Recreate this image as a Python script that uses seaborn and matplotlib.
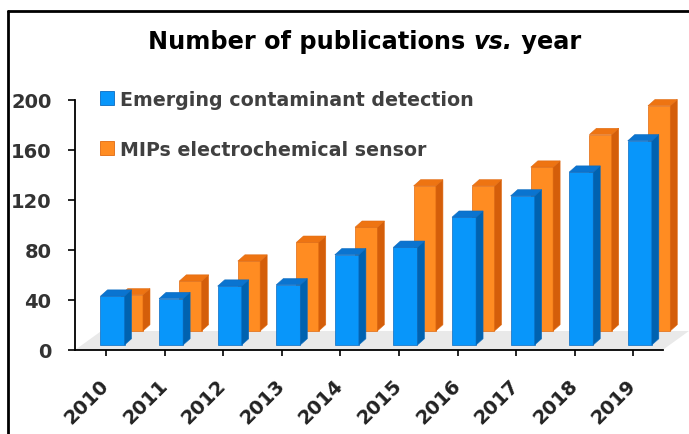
import numpy as np
import pandas as pd
import matplotlib
matplotlib.use("Agg")
import matplotlib.pyplot as plt
import seaborn as sns
from matplotlib.patches import Polygon, Patch
from matplotlib.lines import Line2D

# ---- data ----
years = ["2010", "2011", "2012", "2013", "2014", "2015", "2016", "2017", "2018", "2019"]
emerging = [43, 41, 51, 52, 76, 82, 106, 123, 142, 167]
mips = [44, 55, 71, 86, 98, 131, 131, 146, 172, 195]
series_labels = ["Emerging contaminant detection", "MIPs electrochemical sensor"]
yticks = [0, 40, 80, 120, 160, 200]
title_parts = ["Number of publications ", "vs.", " year"]

# ---- style ----
blue_front, blue_side, blue_top, blue_edge = "#0896FA", "#0062B0", "#0A74D0", "#0B6BC0"
orng_front, orng_side, orng_top, orng_edge = "#FF8C22", "#D45E0A", "#EE7412", "#E06A10"
font_fam = ["DejaVu Sans"]

sns.set_theme(style="white")
plt.rcParams["font.family"] = font_fam

W, H = 689, 435
fig = plt.figure(figsize=(W / 100, H / 100), dpi=100)
ax = fig.add_axes([75 / W, 84 / H, 614 / W, 250.5 / H])

dx, dy = 0.12, 5.0           # 3-D depth of the bars (data units)
front_base, back_base = 4.0, 15.2


def draw_series(values, color, width, shift, base, side_c, top_c, edge_c, z):
    before = set(ax.patches)
    df = pd.DataFrame({"year": years, "value": values})
    sns.barplot(data=df, x="year", y="value", color=color, width=width,
                saturation=1, ax=ax, zorder=z, edgecolor=edge_c, linewidth=0.5)
    new = [p for p in ax.patches if p not in before]
    for p, v in zip(new, values):
        p.set_x(p.get_x() + shift)
        p.set_y(base)
        p.set_height(v - base)
        p.set_clip_on(False)
        x0, w = p.get_x(), p.get_width()
        side = Polygon([(x0 + w, base), (x0 + w + dx, base + dy),
                        (x0 + w + dx, v + dy), (x0 + w, v)],
                       closed=True, facecolor=side_c, edgecolor=edge_c,
                       linewidth=0.4, zorder=z, clip_on=False)
        top = Polygon([(x0, v), (x0 + dx, v + dy), (x0 + w + dx, v + dy), (x0 + w, v)],
                      closed=True, facecolor=top_c, edgecolor=edge_c,
                      linewidth=0.4, zorder=z, clip_on=False)
        ax.add_patch(side)
        ax.add_patch(top)


# floor
ax.add_patch(Polygon([(-0.53, 0), (9.5, 0), (9.95, back_base), (-0.08, back_base)],
                     closed=True, facecolor="#e9e9e9", edgecolor="none", zorder=1,
                     clip_on=False))

draw_series(mips, orng_front, 0.38, 0.44, back_base, orng_side, orng_top, orng_edge, 2)
draw_series(emerging, blue_front, 0.41, 0.11, front_base, blue_side, blue_top, blue_edge, 3)

ax.set_xlim(-0.53, 9.95)
ax.set_ylim(0, 200)
ax.set_xlabel("")
ax.set_ylabel("")
ax.set_yticks(yticks)
ax.set_yticklabels([str(t) for t in yticks], fontsize=14, fontweight="bold", color="#333333")
ax.set_xticks(range(len(years)))
ax.set_xticklabels(years, fontsize=14, fontweight="bold", color="#222222",
                   rotation=45, ha="right", va="center", rotation_mode="anchor")

for s in ["top", "right"]:
    ax.spines[s].set_visible(False)
for s in ["left", "bottom"]:
    ax.spines[s].set_color("black")
    ax.spines[s].set_linewidth(1.3)
ax.spines["bottom"].set_bounds(-0.53, 9.5)
ax.tick_params(axis="y", direction="out", length=5, width=1.2, color="black", pad=12,
               left=True)
ax.tick_params(axis="x", direction="out", length=4, width=1.2, color="black", pad=19,
               bottom=True)
ax.set_facecolor("none")

# legend
handles = [Patch(facecolor=blue_front, edgecolor=blue_edge, linewidth=0.6),
           Patch(facecolor=orng_front, edgecolor=orng_edge, linewidth=0.6)]
leg = ax.legend(handles, series_labels, loc="upper left",
                bbox_to_anchor=(100 / W, (H - 91) / H), bbox_transform=fig.transFigure,
                frameon=False, prop={"family": font_fam, "size": 13.7, "weight": "bold"},
                labelcolor="#404040", handlelength=0.74, handleheight=0.74,
                handletextpad=0.3, labelspacing=1.62, borderpad=0, borderaxespad=0)

# title with italic "vs."
ty = (H - 42) / H
t1 = fig.text(148 / W, ty, title_parts[0], fontsize=17.3, fontweight="bold",
              color="black", va="center", ha="left")
t2 = ax.annotate(title_parts[1], xy=(1, 0.5), xycoords=t1, va="center", ha="left",
                 fontsize=17.3, fontweight="bold", style="italic", color="black",
                 annotation_clip=False)
t3 = ax.annotate(title_parts[2], xy=(1, 0.5), xycoords=t2, va="center", ha="left",
                 fontsize=17.3, fontweight="bold", color="black", annotation_clip=False)

# outer frame (left and top edges)
fig.add_artist(Line2D([8 / W, 8 / W], [0, (H - 12) / H], color="black", lw=2,
                      transform=fig.transFigure))
fig.add_artist(Line2D([8 / W, 1], [(H - 12) / H, (H - 12) / H], color="black", lw=2,
                      transform=fig.transFigure))

fig.savefig("out.png", dpi=100)
